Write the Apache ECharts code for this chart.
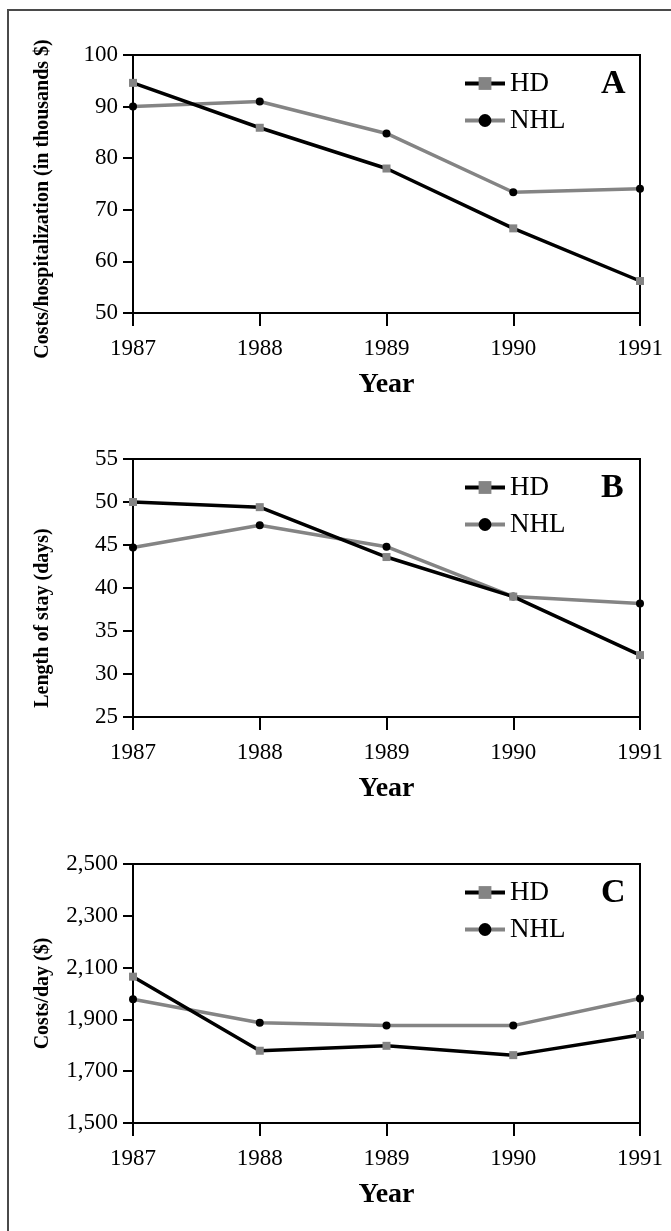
<!DOCTYPE html>
<html>
<head>
<meta charset="utf-8">
<script src="https://cdn.jsdelivr.net/npm/echarts@6/dist/echarts.min.js"></script>
<style>
html, body { margin: 0; padding: 0; background: #fff; }
#chart { width: 671px; height: 1231px; }
</style>
</head>
<body>
<div id="chart"></div>
<script>
// 数据
var years = ['1987', '1988', '1989', '1990', '1991'];
// A: costs/hospitalization (in thousands $)
var costHospHD = [94.6, 85.9, 78.0, 66.4, 56.2];
var costHospNHL = [90.0, 91.0, 84.8, 73.4, 74.1];
// B: length of stay (days)
var stayHD = [50.0, 49.4, 43.6, 39.0, 32.2];
var stayNHL = [44.7, 47.3, 44.8, 39.0, 38.2];
// C: costs/day ($)
var costDayHD = [2065, 1779, 1798, 1762, 1840];
var costDayNHL = [1978, 1887, 1876, 1876, 1981];
var costDayTicks = [1500, 1700, 1900, 2100, 2300, 2500];

var serif = 'Liberation Serif';
var grey = '#848484';

// 三个面板的布局
var panels = [
    { letter: 'A', top: 55, height: 258, yName: 'Costs/hospitalization (in thousands $)', namePad: 30,
      min: 50, max: 100, interval: 10, hd: costHospHD, nhl: costHospNHL },
    { letter: 'B', top: 459, height: 258, yName: 'Length of stay (days)', namePad: 60,
      min: 25, max: 55, interval: 5, hd: stayHD, nhl: stayNHL },
    { letter: 'C', top: 864, height: 259, yName: 'Costs/day ($)', namePad: 0,
      min: 1500, max: 2500, ticks: costDayTicks, hd: costDayHD, nhl: costDayNHL }
];

var option = {
    backgroundColor: '#fff',
    animation: false,
    textStyle: { fontFamily: serif, color: '#000' },
    graphic: [{
        type: 'rect',
        shape: { x: 8, y: 10, width: 800, height: 1400 },
        style: { fill: 'none', stroke: '#4a4a4a', lineWidth: 2 },
        silent: true
    }],
    title: [], legend: [], grid: [], xAxis: [], yAxis: [], series: []
};

panels.forEach(function (p, i) {
    option.grid.push({
        left: 133, top: p.top, width: 507, height: p.height,
        show: true, borderColor: '#000', borderWidth: 2, backgroundColor: 'transparent'
    });
    option.title.push({
        text: p.letter, left: 601, top: p.top + 12, padding: 0,
        textStyle: { fontFamily: serif, fontWeight: 'bold', fontSize: 34, color: '#000' }
    });
    option.legend.push({
        data: ['HD', 'NHL'], orient: 'vertical', left: 463, top: p.top + 15, padding: 0,
        itemWidth: 40, itemHeight: 16, itemGap: 10, selectedMode: false,
        lineStyle: { width: 4 },
        textStyle: { fontFamily: serif, fontSize: 27, color: '#000' }
    });
    option.xAxis.push({
        type: 'category', gridIndex: i, data: years, boundaryGap: false,
        name: 'Year', nameLocation: 'middle', nameGap: 58,
        nameTextStyle: { fontFamily: serif, fontWeight: 'bold', fontSize: 28, color: '#000' },
        axisLine: { lineStyle: { color: '#000', width: 2 } },
        axisTick: { length: 13, lineStyle: { color: '#000', width: 2 } },
        axisLabel: { margin: 24, fontFamily: serif, fontSize: 23, color: '#000' },
        splitLine: { show: false }
    });
    var y = {
        type: 'value', gridIndex: i, min: p.min, max: p.max,
        name: p.yName, nameLocation: 'middle', nameRotate: 90, nameGap: 80,
        nameTextStyle: { fontFamily: serif, fontWeight: 'bold', fontSize: 20, color: '#000',
            padding: [0, p.namePad, 0, 0] },
        axisLine: { show: true, lineStyle: { color: '#000', width: 2 } },
        axisTick: { show: true, length: 10, lineStyle: { color: '#000', width: 2 } },
        axisLabel: { margin: 15, fontFamily: serif, fontSize: 23, color: '#000' },
        splitLine: { show: false }
    };
    if (p.ticks) {
        y.axisLabel.customValues = p.ticks;
        y.axisTick.customValues = p.ticks;
        y.axisLabel.formatter = function (v) { return v.toLocaleString('en-US'); };
    } else {
        y.interval = p.interval;
    }
    option.yAxis.push(y);

    option.series.push({
        name: 'NHL', type: 'line', xAxisIndex: i, yAxisIndex: i, data: p.nhl,
        symbol: 'circle', symbolSize: 8,
        lineStyle: { color: grey, width: 3.5 },
        itemStyle: { color: '#000' }
    });
    option.series.push({
        name: 'HD', type: 'line', xAxisIndex: i, yAxisIndex: i, data: p.hd,
        symbol: 'rect', symbolSize: 8,
        lineStyle: { color: '#000', width: 3.5 },
        itemStyle: { color: grey }
    });
});

var chart = echarts.init(document.getElementById('chart'));
chart.setOption(option);
</script>
</body>
</html>
